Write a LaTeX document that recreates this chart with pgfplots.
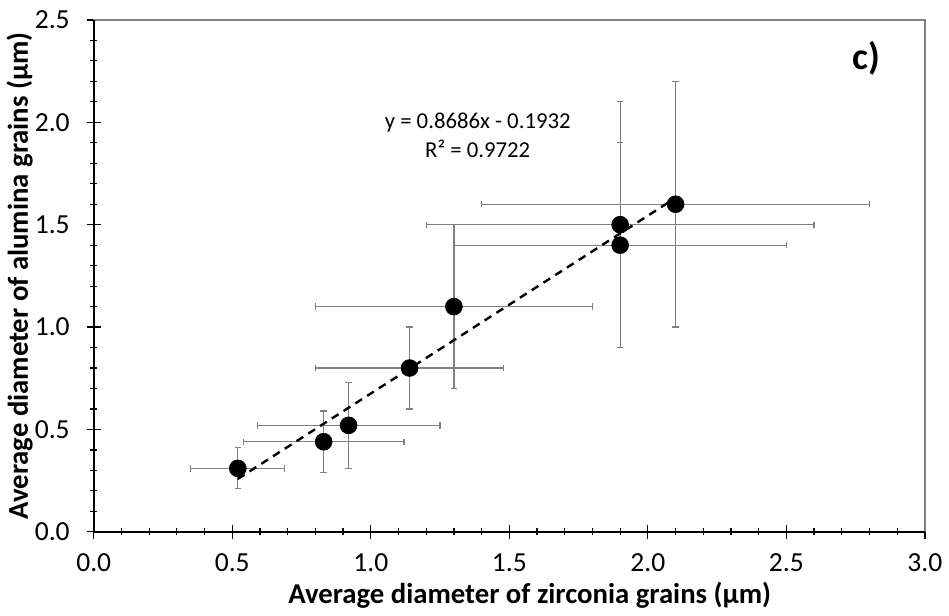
\documentclass[border=0pt]{standalone}
\usepackage{fontspec}
\setmainfont{Carlito}
\usepackage{pgfplots}
\pgfplotsset{compat=1.18}

\definecolor{errgray}{RGB}{128,128,128}

\begin{document}
\begin{tikzpicture}
\begin{axis}[
  scale only axis,
  width=416.5pt, height=256.5pt,
  xmin=0, xmax=3, ymin=0, ymax=2.5,
  xtick={0,0.5,...,3}, ytick={0,0.5,...,2.5},
  minor x tick num=4, minor y tick num=4,
  xtick pos=bottom, ytick pos=left,
  tick align=center,
  major tick length=7pt, minor tick length=3.5pt,
  tick style={black, line width=0.6pt},
  axis line style={errgray, line width=0.6pt},
  /pgf/number format/.cd, fixed, fixed zerofill, precision=1, assume math mode=true,
  /pgfplots/.cd,
  ticklabel style={font=\fontsize{13.8}{16}\selectfont},
  xticklabel style={yshift=-4pt},
  yticklabel style={xshift=-5pt},
  xlabel={Average diameter of zirconia grains (µm)},
  ylabel={Average diameter of alumina grains (µm)},
  label style={font=\fontsize{14.4}{16}\selectfont\bfseries},
  xlabel style={at={(axis description cs:0.5246,-0.1248)}, anchor=center},
  ylabel style={at={(axis description cs:-0.0890,0.5)}, anchor=center},
  clip=false,
]
% black left and bottom axis lines
\draw[black, line width=0.9pt] (rel axis cs:0,1) -- (rel axis cs:0,0) -- (rel axis cs:1,0);

\addplot[
  only marks, mark=*, mark size=4.2pt, black,
  error bars/.cd,
    x dir=both, x explicit, y dir=both, y explicit,
    error bar style={errgray, line width=0.6pt},
    error mark options={errgray, mark size=1.6pt, line width=0.6pt, rotate=90},
] coordinates {
  (0.52,0.31) +- (0.17,0.10)
  (0.83,0.44) +- (0.29,0.15)
  (0.92,0.52) +- (0.33,0.21)
  (1.14,0.80) +- (0.34,0.20)
  (1.30,1.10) +- (0.50,0.40)
  (1.90,1.40) +- (0.60,0.50)
  (1.90,1.50) +- (0.70,0.60)
  (2.10,1.60) +- (0.70,0.60)
};

% linear trendline y = 0.8686x - 0.1932
\addplot[black, line width=1.2pt, dash pattern=on 4pt off 3pt] coordinates {
  (0.52,0.2585) (2.10,1.6309)
};

\node[font=\fontsize{11.4}{14.5}\selectfont, align=center] at (axis cs:1.386,1.938)
  {y = 0.8686x - 0.1932\\R² = 0.9722};
\node[font=\fontsize{19}{21}\selectfont\bfseries] at (axis cs:2.79,2.315) {c)};

% page frame matching the reference canvas
\path (rel axis cs:0,0) ++(-46.5pt,-40.9pt) rectangle (rel axis cs:1,1) ++(11.5pt,10pt);
\end{axis}
\end{tikzpicture}
\end{document}
